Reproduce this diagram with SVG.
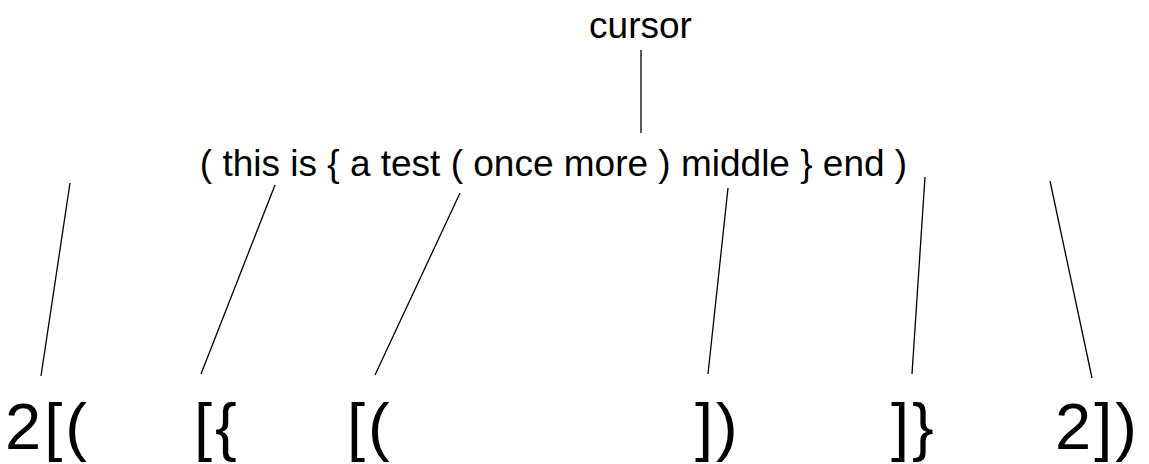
<svg xmlns="http://www.w3.org/2000/svg" width="1149" height="464" viewBox="0 0 1149 464">
<style>
text{font-family:"Liberation Sans",Arial,sans-serif;fill:#000}
.m{font-size:37px}
.b{font-size:65px;letter-spacing:3px}
.c line{stroke:#000;stroke-width:1.3}
</style>
<rect width="1149" height="464" fill="#fff"/>
<g id="cursor"><text class="m" x="640.5" y="38" text-anchor="middle">cursor</text></g>
<g id="sentence"><text class="m" x="553.5" y="176" text-anchor="middle">( this is { a test ( once more ) middle } end )</text></g>
<g id="n1"><text class="b" x="5" y="449">2[(</text></g>
<g id="n2"><text class="b" x="194" y="449">[{</text></g>
<g id="n3"><text class="b" x="347" y="449">[(</text></g>
<g id="n4"><text class="b" x="695" y="449">])</text></g>
<g id="n5"><text class="b" x="891" y="449">]}</text></g>
<g id="n6"><text class="b" x="1055" y="449">2])</text></g>
<g class="c" id="connectors">
<line x1="641" y1="50" x2="641" y2="133"/>
<line x1="70" y1="183" x2="41" y2="376"/>
<line x1="275" y1="185" x2="201" y2="374"/>
<line x1="460" y1="193" x2="375" y2="375"/>
<line x1="728" y1="188" x2="708" y2="374"/>
<line x1="925" y1="177" x2="912" y2="374"/>
<line x1="1050" y1="181" x2="1092" y2="378"/>
</g>
</svg>
